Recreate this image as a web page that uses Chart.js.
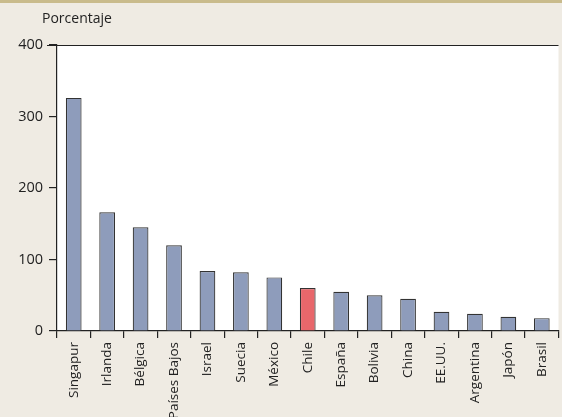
<!DOCTYPE html>
<html><head><meta charset="utf-8">
<script src="https://cdn.jsdelivr.net/npm/chart.js@4/dist/chart.umd.min.js"></script>
<style>html,body{margin:0;padding:0;background:#efebe3;}#w{width:562px;height:417px;}</style>
</head><body><div id="w"><canvas id="c"></canvas></div>
<script>
const categories=["Singapur","Irlanda","Bélgica","Países Bajos","Israel","Suecia","México","Chile","España","Bolivia","China","EE.UU.","Argentina","Japón","Brasil"];
const values=[326,166,145,120,84,82,75,60,55,50,45,27,24,20,18];
const yTicks=[0,100,200,300,400];
const colors=categories.map(c=>c==="Chile"?"#e8676b":"#8e9cbb");
const deco={id:'deco',beforeDraw(ch){const x=ch.ctx,a=ch.chartArea;x.save();x.fillStyle='#efebe3';x.fillRect(0,0,ch.width,ch.height);x.fillStyle='#c9bb8c';x.fillRect(0,0,ch.width,3);x.fillStyle='#fff';x.fillRect(a.left,a.top,a.right-a.left,a.bottom-a.top);x.fillStyle='#222';x.font='14px "Open Sans"';x.textBaseline='middle';x.fillText('Porcentaje',42,19);x.restore();},
afterDraw(ch){const x=ch.ctx,a=ch.chartArea;x.save();x.strokeStyle='#222';x.lineWidth=1.2;x.beginPath();x.moveTo(47,a.top+0.5);x.lineTo(a.right,a.top+0.5);x.stroke();x.restore();}};
new Chart(document.getElementById('c'),{type:'bar',data:{labels:categories,datasets:[{data:values,backgroundColor:colors,borderColor:'#333',borderWidth:1.2,borderSkipped:'bottom',barPercentage:0.47,categoryPercentage:1}]},
options:{responsive:true,maintainAspectRatio:false,animation:false,layout:{padding:{top:45,right:0,left:0,bottom:0}},plugins:{legend:{display:false},tooltip:{enabled:false}},
scales:{x:{offset:true,grid:{offset:true,drawOnChartArea:false,color:'#222',tickLength:7,lineWidth:1.2},border:{color:'#222',width:1.2},ticks:{minRotation:90,maxRotation:90,color:'#222',font:{family:'Open Sans',size:13.5},padding:4},afterFit(s){s.height=86;}},
y:{min:0,max:400,afterBuildTicks(s){s.ticks=yTicks.map(v=>({value:v}));},grid:{drawOnChartArea:false,color:'#222',tickLength:8,lineWidth:1.2},border:{color:'#222',width:1.2},ticks:{color:'#222',font:{family:'Open Sans',size:14.5},padding:6},afterFit(s){s.width=57;}}}},plugins:[deco]});
</script></body></html>
